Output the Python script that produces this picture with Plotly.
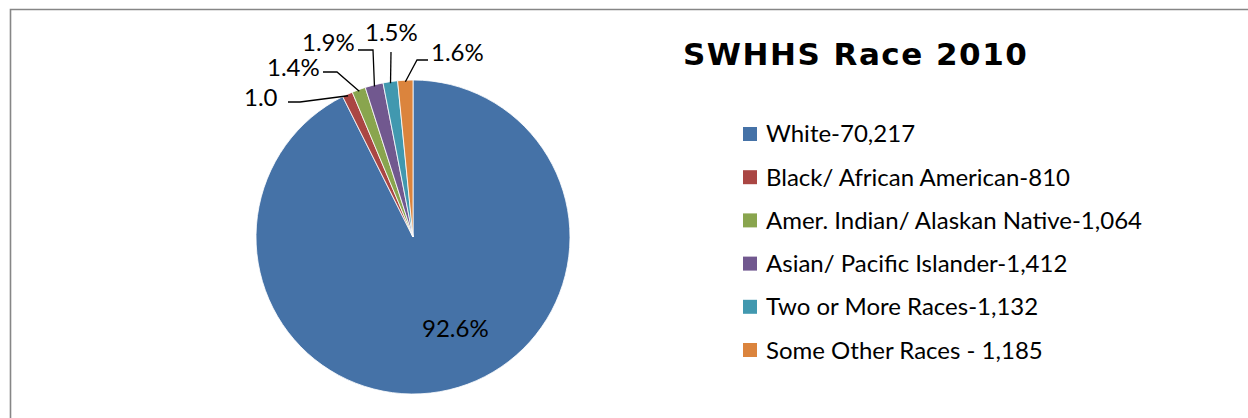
import math
import plotly.graph_objects as go

# Population by race, 2010
categories = [
    "White",
    "Black/ African American",
    "Amer. Indian/ Alaskan Native",
    "Asian/ Pacific Islander",
    "Two or More Races",
    "Some Other Races",
]
counts = [70217, 810, 1064, 1412, 1132, 1185]
legend_labels = [
    "White-70,217",
    "Black/ African American-810",
    "Amer. Indian/ Alaskan Native-1,064",
    "Asian/ Pacific Islander-1,412",
    "Two or More Races-1,132",
    "Some Other Races - 1,185",
]
slice_labels = ["92.6%", "1.0", "1.4%", "1.9%", "1.5%", "1.6%"]
colors = ["#4572A7", "#AA4643", "#89A54E", "#71588F", "#4198AF", "#DB843D"]

# ---- layout constants (pixels) ----
W, H = 1248, 418
FONT = "Lato"
TITLE_FONT = "DejaVu Sans"
CX, CY, R = 413, 237, 157          # pie centre and radius

# label text centres and leader-line elbows for each slice (None = inside label)
label_pos = [(455, 327), (261, 97), (293, 66), (328, 42), (391, 32), (458, 52)]
label_elbow = [None, [(288, 102), (300, 102)], [(323, 72), (337, 72)],
               [(358, 50), (373, 50)], [(391, 52)], [(428, 60), (417, 60)]]

LEG_X, LEG_Y0, LEG_DY, SQ = 743, 134, 43.2, 14


def px(x):
    return x / W


def py(y):
    return 1 - y / H


fig = go.Figure(
    go.Pie(
        labels=categories,
        values=counts,
        sort=False,
        direction="clockwise",
        rotation=0,
        marker=dict(colors=colors, line=dict(color="#ffffff", width=0.8)),
        textinfo="none",
        hoverinfo="label+value+percent",
        showlegend=False,
        domain=dict(x=[px(CX - R), px(CX + R)], y=[py(CY + R), py(CY - R)]),
    )
)

shapes = []
annotations = []

# slice labels with leader lines anchored at each slice's mid-angle on the rim
total = sum(counts)
cum = 0.0
for i, v in enumerate(counts):
    mid = (cum + v / 2) / total
    cum += v
    theta = 2 * math.pi * mid
    ax = CX + R * 0.99 * math.sin(theta)
    ay = CY - R * 0.99 * math.cos(theta)
    lx, ly = label_pos[i]
    annotations.append(dict(
        x=px(lx), y=py(ly), xref="paper", yref="paper", text=slice_labels[i],
        showarrow=False, font=dict(family=FONT, size=24, color="#000000"),
        xanchor="center", yanchor="middle",
    ))
    if label_elbow[i] is not None:
        pts = label_elbow[i] + [(ax, ay)]
        path = "M " + " L ".join(f"{px(x):.5f},{py(y):.5f}" for x, y in pts)
        shapes.append(dict(type="path", xref="paper", yref="paper", path=path,
                           line=dict(color="#000000", width=1.3)))

# legend: coloured squares with category/count text
for i, lab in enumerate(legend_labels):
    yc = LEG_Y0 + i * LEG_DY
    shapes.append(dict(
        type="rect", xref="paper", yref="paper",
        x0=px(LEG_X), x1=px(LEG_X + SQ), y0=py(yc + SQ / 2), y1=py(yc - SQ / 2),
        fillcolor=colors[i], line=dict(width=0),
    ))
    annotations.append(dict(
        x=px(LEG_X + SQ + 7), y=py(yc - 1), xref="paper", yref="paper", text=lab,
        showarrow=False, font=dict(family=FONT, size=24, color="#000000"),
        xanchor="left", yanchor="middle",
    ))

# title
annotations.append(dict(
    x=px(855), y=py(54), xref="paper", yref="paper",
    text='<span style="letter-spacing:1.5px"><b>SWHHS Race 2010</b></span>',
    showarrow=False, font=dict(family=TITLE_FONT, size=31, color="#000000"),
    xanchor="center", yanchor="middle",
))

# chart border (top and left edges visible)
shapes.append(dict(type="rect", xref="paper", yref="paper",
                   x0=px(10.5), x1=1.02, y0=-0.02, y1=py(9.5),
                   line=dict(color="#868686", width=1.6), fillcolor="rgba(0,0,0,0)"))

fig.update_layout(
    width=W, height=H,
    margin=dict(l=0, r=0, t=0, b=0),
    paper_bgcolor="#ffffff",
    plot_bgcolor="#ffffff",
    shapes=shapes,
    annotations=annotations,
)

fig.write_html("out.html")
